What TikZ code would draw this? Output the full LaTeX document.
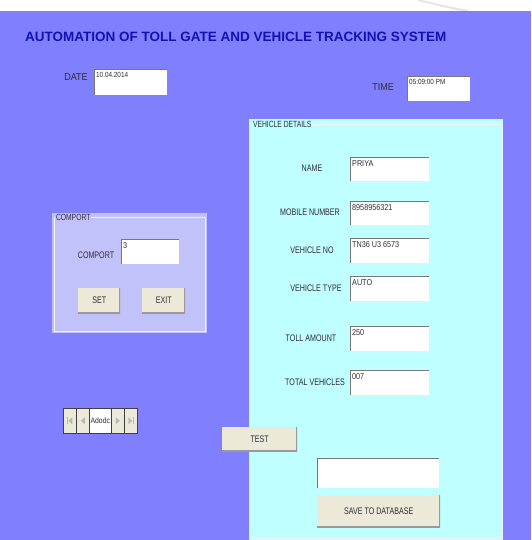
\documentclass[tikz,border=0pt]{standalone}
\usepackage{fontspec}
\setmainfont{Liberation Sans}
\newfontfamily\titlefont{Liberation Sans}
\newfontfamily\uifont[FakeStretch=0.75]{Liberation Sans}
\newfontfamily\valfont[FakeStretch=0.85]{Liberation Sans}
\newfontfamily\hdfont[FakeStretch=0.9]{Liberation Sans}
\definecolor{formblue}{RGB}{128,128,255}
\definecolor{panelcyan}{RGB}{191,255,255}
\definecolor{portlav}{RGB}{194,194,250}
\definecolor{btnbeige}{RGB}{236,233,216}
\definecolor{titleblue}{RGB}{18,18,180}
\definecolor{labelgray}{RGB}{45,45,55}
\definecolor{fieldedge}{RGB}{120,120,120}

\begin{document}
\begin{tikzpicture}[x=1pt,y=-1pt,
  lbl/.style={font=\uifont\fontsize{9.5}{10}\selectfont, text=labelgray, inner sep=0pt},
  hd/.style={font=\hdfont\fontsize{10}{11}\selectfont, text=labelgray, inner sep=0pt},
  val/.style={font=\valfont\fontsize{8.5}{9}\selectfont, text=labelgray, inner sep=0pt, anchor=north west},
  field/.style={fill=white, anchor=north west, inner sep=0pt,
    path picture={\draw[fieldedge, line width=1.4pt] (path picture bounding box.south west) -- (path picture bounding box.north west) -- (path picture bounding box.north east);}},
  btn/.style={fill=btnbeige, anchor=north west, inner sep=0pt, font=\uifont\fontsize{9.5}{10}\selectfont, text=labelgray,
    path picture={\draw[gray!80, line width=1.6pt] (path picture bounding box.south west) -- (path picture bounding box.south east) -- (path picture bounding box.north east);}},
  grp/.style={draw=white!90!gray, line width=0.8pt},
  grplbl/.style={font=\uifont\fontsize{9}{10}\selectfont, text=labelgray, inner sep=0.8pt, anchor=west},
  nav/.style={fill=btnbeige, draw=black!75, line width=0.6pt, anchor=north west, inner sep=0pt, minimum width=13pt, minimum height=25pt},
  navglyph/.style={fill=gray!55}]
  \useasboundingbox (0,0) rectangle (531,540);
  \fill[white] (0,0) rectangle (531,11);
  \draw[gray!20, line width=2pt] (418,0) .. controls (435,4) and (450,8) .. (468,11);
  \fill[formblue] (0,11) rectangle (531,540);
  % heading, date and time
  \node[font=\titlefont\bfseries\fontsize{13.5}{15}\selectfont, text=titleblue, inner sep=0pt, anchor=west] (title) at (25,37) {AUTOMATION OF TOLL GATE AND VEHICLE TRACKING SYSTEM};
  \node[hd] (datel) at (76,77) {DATE};
  \node[field, minimum width=73pt, minimum height=26pt] (datef) at (94,69) {};
  \node[val, font=\valfont\fontsize{7.5}{8}\selectfont] (datev) at ([shift={(2,3)}]datef.north west) {10.04.2014};
  \node[hd] (timel) at (383,87) {TIME};
  \node[field, minimum width=63pt, minimum height=25pt] (timef) at (407,76) {};
  \node[val, font=\valfont\fontsize{7.5}{8}\selectfont] (timev) at ([shift={(2,3)}]timef.north west) {05:09:00 PM};
  % comport frame
  \fill[portlav] (52,213) rectangle (207,333);
  \draw[grp] (54,217) rectangle (205,331);
  \node[grplbl, fill=portlav] (portgrp) at (55,217) {COMPORT};
  \node[lbl] (portl) at (96,255) {COMPORT};
  \node[field, minimum width=58pt, minimum height=25pt] (portf) at (121,239) {};
  \node[val] (portv) at ([shift={(2,3)}]portf.north west) {3};
  \node[btn, minimum width=42pt, minimum height=25pt] (set) at (78,288) {SET};
  \node[btn, minimum width=43pt, minimum height=25pt] (exit) at (142,288) {EXIT};
  % record navigator
  \node[nav] (first) at (63,408) {};
  \node[nav] (prev) at (76,408) {};
  \node[nav, fill=white, minimum width=22pt, font=\valfont\fontsize{8}{9}\selectfont, text=labelgray] (caption) at (89,408) {Adodc};
  \node[nav] (next) at (111,408) {};
  \node[nav] (last) at (124,408) {};
  \fill[navglyph] ([xshift=-3pt,yshift=-3.5pt]first.center) rectangle ([xshift=-1.8pt,yshift=3.5pt]first.center);
  \fill[navglyph] ([xshift=-1.5pt]first.center) -- ([xshift=2.5pt,yshift=3.5pt]first.center) -- ([xshift=2.5pt,yshift=-3.5pt]first.center) -- cycle;
  \fill[navglyph] ([xshift=-2pt]prev.center) -- ([xshift=2pt,yshift=3.5pt]prev.center) -- ([xshift=2pt,yshift=-3.5pt]prev.center) -- cycle;
  \fill[navglyph] ([xshift=2pt]next.center) -- ([xshift=-2pt,yshift=3.5pt]next.center) -- ([xshift=-2pt,yshift=-3.5pt]next.center) -- cycle;
  \fill[navglyph] ([xshift=1.5pt]last.center) -- ([xshift=-2.5pt,yshift=3.5pt]last.center) -- ([xshift=-2.5pt,yshift=-3.5pt]last.center) -- cycle;
  \fill[navglyph] ([xshift=1.8pt,yshift=-3.5pt]last.center) rectangle ([xshift=3pt,yshift=3.5pt]last.center);
  % vehicle details frame
  \fill[panelcyan] (249,119) rectangle (503,540);
  \draw[grp] (251,124) rectangle (502,538);
  \node[grplbl, fill=panelcyan] (vehgrp) at (252,124) {VEHICLE DETAILS};
  \node[lbl] (namel) at (312,168) {NAME};
  \node[field, minimum width=79pt, minimum height=24pt] (namef) at (350,157) {};
  \node[val] (namev) at ([shift={(2,3)}]namef.north west) {PRIYA};
  \node[lbl] (mobl) at (310,212) {MOBILE NUMBER};
  \node[field, minimum width=79pt, minimum height=24pt] (mobf) at (350,201) {};
  \node[val] (mobv) at ([shift={(2,3)}]mobf.north west) {8958956321};
  \node[lbl] (vnol) at (312,250) {VEHICLE NO};
  \node[field, minimum width=79pt, minimum height=25pt] (vnof) at (350,238) {};
  \node[val] (vnov) at ([shift={(2,3)}]vnof.north west) {TN36 U3 6573};
  \node[lbl] (vtypel) at (316,288) {VEHICLE TYPE};
  \node[field, minimum width=79pt, minimum height=25pt] (vtypef) at (350,276) {};
  \node[val] (vtypev) at ([shift={(2,3)}]vtypef.north west) {AUTO};
  \node[lbl] (tolll) at (311,338) {TOLL AMOUNT};
  \node[field, minimum width=79pt, minimum height=25pt] (tollf) at (350,326) {};
  \node[val] (tollv) at ([shift={(2,3)}]tollf.north west) {250};
  \node[lbl] (totall) at (315,382) {TOTAL VEHICLES};
  \node[field, minimum width=79pt, minimum height=25pt] (totalf) at (350,370) {};
  \node[val] (totalv) at ([shift={(2,3)}]totalf.north west) {007};
  \node[btn, minimum width=75pt, minimum height=24pt] (test) at (222,427) {TEST};
  \node[field, minimum width=122pt, minimum height=30pt] (statusf) at (317,458) {};
  \node[btn, minimum width=123pt, minimum height=32pt] (save) at (317,495) {SAVE TO DATABASE};
\end{tikzpicture}
\end{document}
